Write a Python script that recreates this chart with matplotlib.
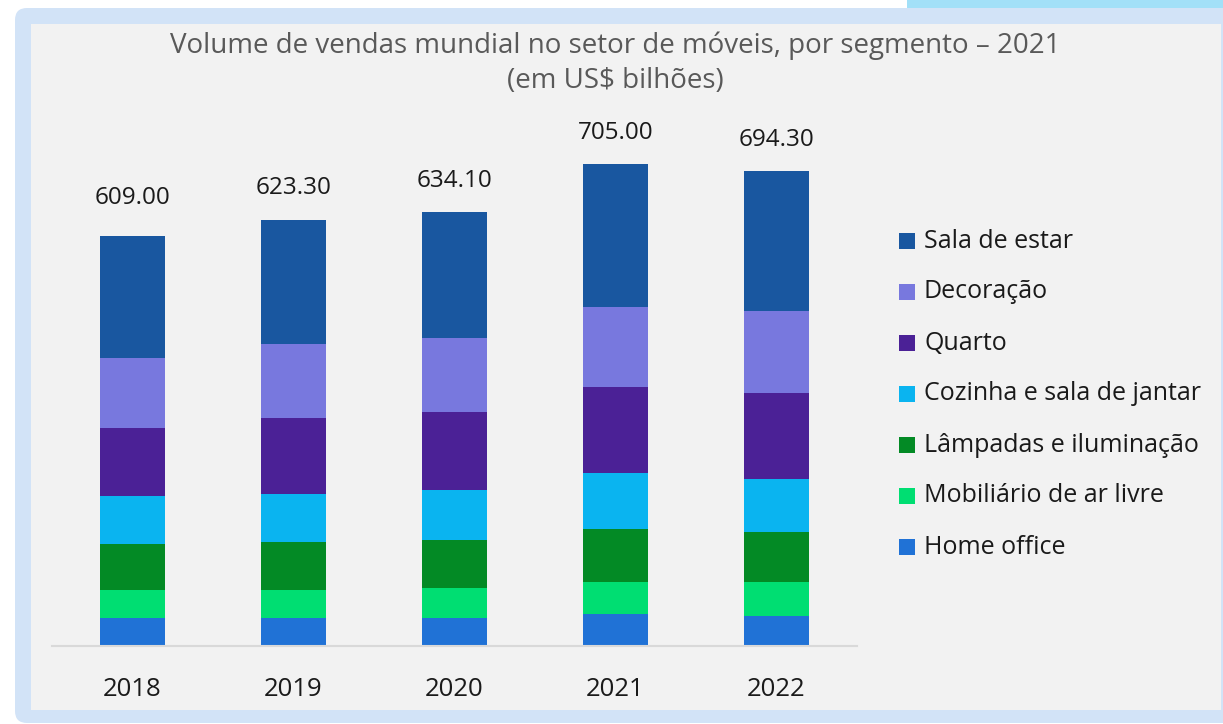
import matplotlib
matplotlib.use("Agg")
import matplotlib.pyplot as plt
from matplotlib.patches import FancyBboxPatch, Rectangle

# ==========================================
# DADOS (US$ bilhões)
# ==========================================

ANOS   = ['2018', '2019', '2020', '2021', '2022']
TOTAIS = [609.00, 623.30, 634.10, 705.00, 694.30]

home_office = [40.9, 40.9, 40.9, 46.7, 43.7]
mobiliario  = [40.9, 40.9, 43.9, 46.2, 49.2]
lampadas    = [67.3, 70.2, 70.2, 78.8, 73.3]
cozinha     = [70.2, 70.2, 73.1, 81.8, 78.4]
quarto      = [99.4, 111.1, 114.0, 125.4, 125.6]
decoracao   = [102.3, 108.2, 108.2, 116.4, 119.6]
sala_estar  = [178.4, 181.3, 184.2, 209.7, 204.5]

SEGMENTOS = ['Home office', 'Mobiliário de ar livre', 'Lâmpadas e iluminação',
             'Cozinha e sala de jantar', 'Quarto', 'Decoração', 'Sala de estar']
SERIES = [home_office, mobiliario, lampadas, cozinha, quarto, decoracao, sala_estar]
CORES  = ['#2072d6', '#00de72', '#038a25', '#0ab4f0', '#4b2196', '#7878de', '#1957a0']

W, H = 1223, 724
FONTE = 'Open Sans'
plt.rcParams['font.family'] = [FONTE, 'DejaVu Sans']

fig = plt.figure(figsize=(W / 100, H / 100), dpi=100)
fig.patch.set_facecolor('white')

# ── fundo: moldura azul clara + área cinza (em pixels) ──────────────────
bg = fig.add_axes([0, 0, 1, 1])
bg.set_xlim(0, W)
bg.set_ylim(H, 0)
bg.axis('off')
bg.set_zorder(-1)
bg.add_patch(Rectangle((907, 0), W - 907, 12, color='#a2e0f8', lw=0))
bg.add_patch(FancyBboxPatch((15, 8), W + 20, 715, boxstyle='round,pad=0,rounding_size=12',
                            fc='#d2e3f7', ec='none'))
bg.add_patch(Rectangle((31, 24), 1221 - 31, 710 - 24, color='#f2f2f2', lw=0))

# legenda manual
ordem = list(range(len(SEGMENTOS)))[::-1]
for i, k in enumerate(ordem):
    yc = 241 + i * 51
    bg.add_patch(Rectangle((899, yc - 8), 16, 16, color=CORES[k], lw=0))
    bg.text(924, yc, SEGMENTOS[k], va='center', ha='left', fontsize=18,
            color='#1a1a1a')

# título
bg.text(615, 46, 'Volume de vendas mundial no setor de móveis, por segmento – 2021',
        ha='center', va='center', fontsize=20, color='#595959')
bg.text(615, 81, '(em US$ bilhões)', ha='center', va='center', fontsize=20,
        color='#595959')

# ── gráfico de barras empilhadas ───────────────────────────────────────
PX_POR_UN = 0.684
ax = fig.add_axes([52 / W, 78 / H, 805 / W, 546 / H])
ax.set_facecolor('none')
x = list(range(len(ANOS)))
base = [0.0] * len(ANOS)
for vals, cor in zip(SERIES, CORES):
    ax.bar(x, vals, bottom=base, width=0.4, color=cor, lw=0)
    base = [b + v for b, v in zip(base, vals)]

for xi, tot in zip(x, TOTAIS):
    ax.annotate(f'{tot:.2f}', (xi, tot), xytext=(0, 22.5), textcoords='offset points',
                ha='center', va='center', fontsize=17.5, color='#1a1a1a')

ax.set_xlim(-0.5, len(ANOS) - 0.5)
ax.set_ylim(0, 546 / PX_POR_UN)
for s in ['left', 'right', 'top']:
    ax.spines[s].set_visible(False)
ax.spines['bottom'].set_color('#d9d9d9')
ax.spines['bottom'].set_linewidth(1.5)
ax.set_yticks([])
ax.set_xticks(x)
ax.set_xticklabels(ANOS, fontsize=18.5, color='#1a1a1a')
ax.tick_params(axis='x', length=0, pad=22.5)

fig.savefig('out.png', dpi=100)
